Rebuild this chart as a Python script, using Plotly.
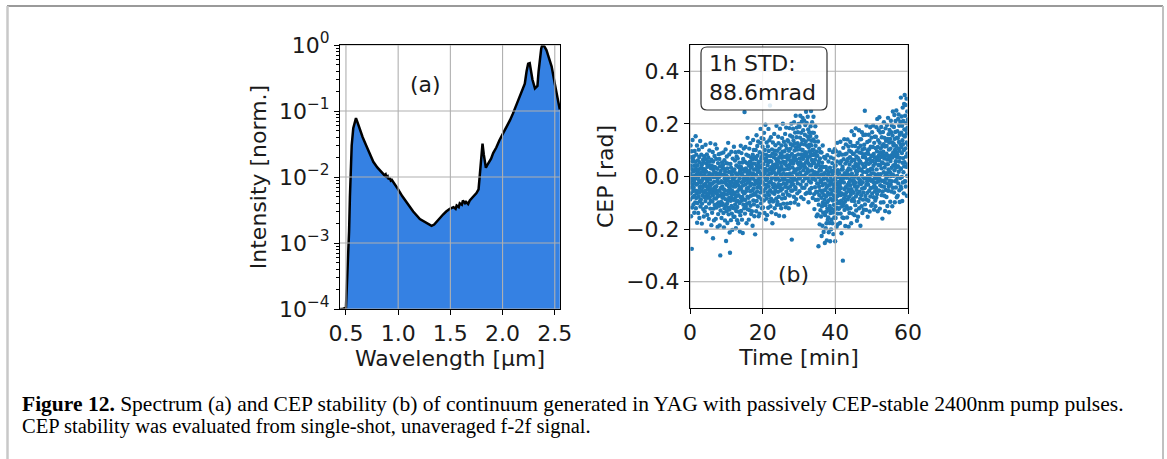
import numpy as np
import plotly.graph_objects as go

W, H = 1167, 459

# ---------------- (a) spectrum ----------------
wavelength_um = [0.445, 0.47, 0.50, 0.505, 0.51, 0.52, 0.53, 0.538, 0.545, 0.555, 0.57, 0.585, 0.596,
                 0.61, 0.634, 0.66, 0.698, 0.73, 0.762, 0.80, 0.83, 0.857, 0.87, 0.88, 0.89, 0.90,
                 0.91, 0.92, 0.93, 0.94, 0.953, 0.97, 1.0, 1.04, 1.08, 1.144, 1.208, 1.27, 1.30,
                 1.32, 1.345, 1.368, 1.40, 1.43, 1.46, 1.495, 1.53, 1.55, 1.56, 1.58, 1.59, 1.61,
                 1.62, 1.64, 1.65, 1.67, 1.686, 1.71, 1.73, 1.75, 1.77, 1.78, 1.795, 1.808, 1.82,
                 1.84, 1.862, 1.89, 1.91, 1.94, 1.97, 2.0, 2.04, 2.07, 2.1, 2.13, 2.165, 2.19,
                 2.213, 2.23, 2.245, 2.26, 2.275, 2.286, 2.31, 2.334, 2.345, 2.357, 2.37, 2.38,
                 2.40, 2.42, 2.45, 2.47, 2.50, 2.52, 2.548]
intensity_norm = [1.0e-4, 1.0e-4, 1.05e-4, 1.5e-4, 2.5e-4, 7e-4, 1.5e-3, 5e-3, 1.2e-2, 3e-2, 5.5e-2, 7.2e-2, 7.8e-2,
                  6.8e-2, 5.2e-2, 4.0e-2, 2.9e-2, 2.2e-2, 1.7e-2, 1.4e-2, 1.25e-2, 1.14e-2, 1.06e-2, 1.1e-2, 0.98e-2, 1.02e-2,
                  0.92e-2, 0.97e-2, 0.88e-2, 0.9e-2, 0.84e-2, 0.78e-2, 6.5e-3, 5.1e-3, 4.2e-3, 3.0e-3, 2.3e-3, 2.0e-3, 1.9e-3,
                  1.82e-3, 1.9e-3, 2.1e-3, 2.4e-3, 2.7e-3, 3.0e-3, 3.3e-3, 3.5e-3, 3.3e-3, 3.7e-3, 3.5e-3, 4.0e-3, 3.8e-3,
                  4.4e-3, 4.0e-3, 4.2e-3, 3.9e-3, 4.4e-3, 4.8e-3, 5.3e-3, 5.7e-3, 6.5e-3, 9.5e-3, 2.0e-2, 3.2e-2, 2.2e-2,
                  1.38e-2, 1.6e-2, 1.9e-2, 2.3e-2, 2.8e-2, 3.6e-2, 4.4e-2, 5.8e-2, 7.2e-2, 9.2e-2, 1.2e-1, 1.6e-1, 2.0e-1,
                  2.6e-1, 4.0e-1, 5.2e-1, 5.3e-1, 4.0e-1, 3.0e-1, 2.2e-1, 2.4e-1, 4.0e-1, 6.5e-1, 8.8e-1, 1.0,
                  0.95, 0.84, 0.62, 0.47, 0.26, 0.17, 0.105]

wl_ticks = [0.5, 1.0, 1.5, 2.0, 2.5]
wl_ticklabels = ["0.5", "1.0", "1.5", "2.0", "2.5"]
int_ticks = [1e-4, 1e-3, 1e-2, 1e-1, 1e0]
int_ticklabels = ["10<sup>−4</sup>", "10<sup>−3</sup>", "10<sup>−2</sup>", "10<sup>−1</sup>", "10<sup>0</sup>"]

# ---------------- (b) CEP, single-shot values in mrad (24 shots per minute, one line per minute) ----------------
cep_mrad_00_10 = [
    12, -87, 41, -23, 118, -64, 5, -151, 73, -9, -42, 96, -275, 28, -118, 57, -31, 139, -2, -79, 64, -55, 19, -106,
    -42, 76, -17, 41, -138, 2, -73, 97, -26, 24, -99, 56, -8, 153, -54, -121, 29, -82, 83, -31, 9, -64, 118, -176,
    43, -28, -101, 14, 61, -56, -139, -1, 27, -77, 102, -14, -62, 74, -158, 6, -43, 53, -93, 135, -21, -114, 32, -37,
    -87, 16, -21, 83, -54, 43, -179, 4, -103, 112, -13, -72, 29, -40, 64, -124, -4, -62, 52, -152, 20, -31, 77, -78,
    6, -133, 28, -54, 66, -28, -93, 121, -76, -7, -117, 18, -209, 49, -37, 84, -64, -17, -146, 37, -49, 58, -81, 1,
    -68, 72, -41, -3, -161, 42, -103, 13, 99, -27, -79, 56, -56, -12, -122, 127, -34, -92, 31, -48, 3, -185, 64, -63,
    41, -56, -138, 9, -95, -26, 93, -71, -235, 57, -48, 25, -122, -3, -167, -21, 36, -83, 78, -108, -41, 14, -61, 122,
    -49, 34, -161, -2, -84, 67, -37, -118, 13, 106, -66, -18, -104, 29, -192, -6, -75, 51, -143, -24, 5, -99, 85, -54,
    -2, -111, 67, -53, -186, 12, -72, 39, -300, -23, -129, 21, -44, 88, -97, -18, -158, 5, -64, 53, -108, -39, -81, 33,
    -103, -22, 44, -77, 91, -139, 7, -48, -194, 29, -66, 62, -121, -7, -52, -167, 18, -86, -24, 103, -111, -13, -245, 51]
cep_mrad_10_20 = [
    4, -132, -31, 76, -68, -103, 31, -177, -14, -91, 49, -55, 128, -119, -4, -144, -37, 17, -82, 84, -126, -21, -213, -46,
    -290, 16, -63, 48, -92, -34, -166, 33, -78, 94, -112, -21, -141, 7, -54, -203, -8, -119, 68, -67, 21, -86, -38, -153,
    -12, -89, 113, -121, -28, 27, -153, -4, -62, 61, -106, -38, 92, -78, 13, -197, -21, -131, 42, -73, 76, -94, -31, -166,
    -116, 4, -57, 69, -93, -18, -178, 36, -33, -71, 94, -134, 11, -48, 52, -101, -7, -209, 19, -43, -147, 28, -79, 117,
    37, -46, -131, 12, 89, -92, -22, -164, 6, -78, 53, -57, -215, 28, -34, 67, -107, -9, -87, 106, -64, -17, -121, 19,
    245, -63, 56, -141, -1, -89, 112, -31, -114, 31, -56, -12, 83, -178, 22, -46, 51, -103, -6, -77, 147, -125, 11, -23,
    -44, 79, -81, 3, -164, 42, -22, 106, -99, 21, -128, -12, 56, -56, 127, -34, -111, 33, -73, 72, -143, 11, -27, 48,
    37, -132, -2, 64, -53, -187, 83, -70, 12, 139, -91, -9, -46, 101, -106, 26, -31, -151, 49, -64, 7, 73, -220, -17,
    -69, 28, 101, -26, 66, -132, 4, 157, -93, 41, -19, -57, 116, -42, 79, -113, 18, -76, 133, -10, 54, -151, 32, -33,
    41, -79, 17, -141, 92, -26, 57, -3, 128, -61, 181, -44, 11, -102, 69, -18, 146, -87, 34, -121, 77, 6, -53, 113]
cep_mrad_20_30 = [
    -23, 86, -118, 47, 3, 143, -56, 24, -91, 166, -31, 68, -139, 12, 101, -72, 29, -8, 197, -46, 58, -163, 83, -14,
    66, -32, 129, -84, 22, -147, 78, -7, 43, -61, 114, 4, -119, 54, 181, -38, 97, -71, 26, -23, 138, -96, 12, 59,
    270, -52, 31, -113, 78, -19, 149, -84, 11, 57, -136, 36, -7, 103, -61, 22, -178, 87, -29, 129, -95, 44, -41, 16,
    -92, 18, 73, -29, 162, -66, 31, -121, 98, -3, 46, -54, 119, -12, 84, -143, 9, 66, -83, 193, -40, 37, -108, 57,
    44, -97, 98, -6, 62, -58, 151, -29, 17, 127, -77, 31, -149, 73, -14, 106, -41, 23, 182, -108, 52, 8, 87, -53,
    -32, 83, -121, 39, 118, 2, 71, -84, 146, 28, -47, 94, -12, 201, -68, 56, -103, 13, 76, -26, 132, -151, 49, -4,
    96, -11, 27, -82, 162, -39, 54, 119, -117, 73, 4, 186, -58, 42, -28, 107, 9, -103, 81, -16, 138, 29, -69, 64,
    -44, 133, 1, 67, -121, 98, 29, -17, 184, 44, -72, 78, 12, 156, -38, 106, -101, 52, 123, -4, -54, 201, 61, -27,
    -240, 86, 1, 151, 34, -53, 118, -16, 182, 49, -31, 137, 16, 73, -77, 206, 61, -8, 99, -99, 126, 27, 167, -41,
    78, -48, 231, 23, 111, -86, 64, 149, -13, 186, 9, 102, -64, 52, 127, -26, 168, 31, 84, -107, 116, 200, -2, 45]
cep_mrad_30_40 = [
    29, 117, -56, 189, 68, -8, 148, 14, 231, 54, -31, 103, 36, 166, -79, 84, 124, 3, 208, 43, 139, -43, 77, 223,
    101, -18, 67, 176, 24, 139, -86, 84, 46, 213, 3, 122, -43, 77, 159, 36, -8, 196, 92, -66, 133, 53, 246, 11,
    -31, 86, 204, 14, 118, -62, 63, 152, 28, 227, -6, 73, 179, 51, -98, 111, 19, 141, -18, 168, 96, 44, 121, -49,
    77, -63, 154, 4, 191, 88, -23, 249, 42, 119, -44, 136, 63, 23, 206, -9, 101, 167, -82, 82, 52, 141, 9, 227,
    102, -8, 166, -67, 51, -124, 88, 16, 133, -41, 64, 191, -13, 117, -89, 36, 79, -58, 151, 4, -151, 94, 41, -27,
    -61, 79, -144, 14, -88, 133, -26, 47, -265, -2, -107, 58, -39, 106, -71, 26, -182, 3, 69, -53, 93, -128, -14, 37,
    23, -152, -22, -81, 91, -226, 7, -113, 52, -62, -187, -33, 118, -99, -11, -138, 36, -53, -211, -1, -106, 74, -71, 13,
    -88, 11, -253, -27, -147, 68, -109, -51, -197, 36, -76, -134, -8, -178, -41, -243, 24, -98, 81, -122, -34, -164, -63, 7,
    -16, -156, 57, -91, -212, 16, -69, -128, 101, -177, -32, -112, 33, -246, -49, -139, -2, -84, 72, -201, -23, -66, -164, 21,
    -123, -14, -54, 51, -178, 9, -91, 93, -137, -31, -219, 21, -72, 68, -108, -43, -156, 36, -83, 104, -126, -8, -246, -27]
cep_mrad_40_50 = [
    -13, -158, 42, -87, 96, -56, -119, 13, -191, -29, 57, -102, 128, -74, -44, -141, 24, -181, -2, -63, 81, -123, -21, -96,
    -121, 13, -56, 91, -102, -32, -177, 49, -71, 132, -141, -8, -44, 58, -92, -21, -216, 26, -64, 83, -113, 3, -156, 37,
    28, -320, -9, -104, 109, -69, 66, -158, -23, -83, 142, -48, -127, 13, 84, -96, 1, -188, 49, -41, -73, 122, -114, -4,
    -61, 87, -113, -4, 58, -156, 22, -32, 141, -87, 9, -123, 68, -48, 114, -191, 31, -24, -78, 98, -139, 46, -56, -11,
    73, -34, 131, -121, 26, -69, 3, 94, -178, 57, -48, 172, -92, 11, -16, 117, -57, 64, -141, -1, 86, -83, 37, -28,
    -62, 87, -16, 158, -93, 32, -147, 63, -1, -38, 116, -109, 48, -24, 183, -76, 21, -129, 76, -51, 9, 96, -168, 39,
    19, -66, 128, -38, 71, -153, 47, -8, 109, -97, 33, 176, -121, 62, -24, 91, -58, 141, -13, -84, 56, -187, 24, 117,
    -29, 142, -71, 26, -113, 89, 3, 168, -46, 48, -139, 103, -22, 74, -88, 17, 158, -61, 36, -126, 84, -7, 121, -43,
    106, -43, 250, -106, 38, 72, -74, 159, -7, 51, -127, 87, -31, 194, 16, -88, 63, -19, 131, -62, 24, -153, 98, 2,
    -31, 86, -92, 48, 159, -7, 104, -54, 23, 136, -133, 67, 2, 187, -76, 53, -44, 113, -16, 30, -111, 78, 11, 148]
cep_mrad_50_60 = [
    79, -13, 168, -64, 26, -103, 59, 112, -42, 194, -21, 41, -79, 86, 12, -126, 128, -34, 73, -7, 151, -56, 49, -91,
    -113, 108, 4, 151, -44, 61, -81, 187, 27, -22, 96, -67, 219, -6, 73, -132, 112, 9, 138, -53, 44, -17, 176, 81,
    62, -54, 225, -9, 128, -122, 43, 91, -33, 167, 9, 106, -99, 74, 188, -16, 31, -71, 149, -37, 53, 116, -160, 82,
    -57, 51, 169, -16, 94, -98, 123, 16, 206, -39, 68, -73, 147, 34, -22, 114, -131, 78, 4, 183, -51, 46, 136, -9,
    87, -78, 116, 13, 196, -26, 64, -112, 143, 1, 47, 223, -54, 78, 27, 161, -39, 102, -136, 129, 16, 177, -16, 68,
    16, 143, -96, 106, 59, -31, 212, 2, 168, -57, 81, 33, 194, -18, 129, -113, 72, 156, 8, 247, -43, 91, 42, 118,
    126, 3, 188, -61, 79, 234, 24, 143, -98, 101, 46, 169, -18, 211, 58, -42, 116, 34, 251, -13, 92, -79, 148, 72,
    2, 172, 83, -73, 146, 39, 219, -26, 107, 236, 18, 131, 57, 193, -52, 98, -97, 159, 71, -6, 208, 31, 122, -38,
    300, 29, 167, -46, 112, 228, -2, 89, 193, -93, 138, 52, 262, -23, 123, 70, 211, 16, 156, -64, 101, 276, 39, 179,
    54, 310, -18, 152, 231, -19, 107, 272, -38, 178, 76, 203, 37, 296, 129, -73, 164, 3, 247, 88, 186, 46, 217, 121]
measurement_minutes = 60

time_ticks = [0, 20, 40, 60]
time_ticklabels = ["0", "20", "40", "60"]
cep_ticks = [-0.4, -0.2, 0.0, 0.2, 0.4]
cep_ticklabels = ["−0.4", "−0.2", "0.0", "0.2", "0.4"]

std_label = "1h STD:<br>88.6mrad"
caption_line1 = ("<b>Figure 12.</b> Spectrum (a) and CEP stability (b) of continuum generated in YAG with "
                 "passively CEP-stable 2400nm pump pulses.")
caption_line2 = "CEP stability was evaluated from single-shot, unaveraged f-2f signal."

# ---------------- derived ----------------
cep_rad = np.concatenate([cep_mrad_00_10, cep_mrad_10_20, cep_mrad_20_30,
                          cep_mrad_30_40, cep_mrad_40_50, cep_mrad_50_60]) / 1000.0
time_min = np.linspace(0, measurement_minutes, len(cep_rad))

FONT = "DejaVu Sans"
FS = 22
GRID = "#b0b0b0"
TXT = "#1a1a1a"


def px(x):
    return x / W


def py(y):
    return 1 - y / H


fig = go.Figure()

fig.add_trace(go.Scatter(x=wavelength_um, y=intensity_norm, mode="lines", fill="tozeroy",
                         fillcolor="#3581e3", line=dict(color="black", width=2.5),
                         xaxis="x", yaxis="y", showlegend=False, hoverinfo="skip"))
fig.add_trace(go.Scatter(x=time_min, y=cep_rad, mode="markers",
                         marker=dict(color="#1f77b4", size=4.4, line=dict(width=0)),
                         xaxis="x2", yaxis="y2", showlegend=False))

xr_a = [0.443, 2.55]
yr_a = [1e-4, 1e0]
xr_b = [0, 60]
yr_b = [-0.5, 0.5]


def grid_trace(xt, yt, xr, yr, xa, ya):
    gx, gy = [], []
    for v in xt:
        gx += [v, v, None]
        gy += [yr[0], yr[1], None]
    for v in yt:
        gx += [xr[0], xr[1], None]
        gy += [v, v, None]
    return go.Scatter(x=gx, y=gy, mode="lines", line=dict(color=GRID, width=1.1),
                      xaxis=xa, yaxis=ya, showlegend=False, hoverinfo="skip")


fig.add_trace(grid_trace(wl_ticks, int_ticks, xr_a, yr_a, "x", "y"))
fig.add_trace(grid_trace(time_ticks, cep_ticks, xr_b, yr_b, "x2", "y2"))

axis_common = dict(showline=True, linecolor="black", linewidth=1, mirror=True,
                   ticks="outside", ticklen=5, tickwidth=1, tickcolor="black",
                   showgrid=False, zeroline=False, automargin=False,
                   tickfont=dict(family=FONT, size=FS, color=TXT),
                   title_font=dict(family=FONT, size=FS, color=TXT))

fig.update_layout(
    template="none",
    width=W, height=H, margin=dict(l=0, r=0, t=0, b=0, pad=0),
    paper_bgcolor="white", plot_bgcolor="white",
    xaxis=dict(domain=[px(340), px(560)], anchor="y", range=xr_a,
               tickmode="array", tickvals=wl_ticks, ticktext=wl_ticklabels,
               title=dict(text="Wavelength [µm]", standoff=3), **axis_common),
    yaxis=dict(domain=[py(309), py(45)], anchor="x", type="log", range=[-4, 0],
               tickmode="array", tickvals=int_ticks, ticktext=int_ticklabels,
               minor=dict(ticks="outside", ticklen=3, tickcolor="black", showgrid=False,
                          tickvals=[m * 10.0 ** e for e in range(-4, 0) for m in range(2, 10)]),
               title=dict(text="Intensity [norm.]", standoff=6), **axis_common),
    xaxis2=dict(domain=[px(690), px(908)], anchor="y2", range=xr_b,
                tickmode="array", tickvals=time_ticks, ticktext=time_ticklabels,
                title=dict(text="Time [min]", standoff=3), **axis_common),
    yaxis2=dict(domain=[py(308), py(45)], anchor="x2", range=yr_b,
                tickmode="array", tickvals=cep_ticks, ticktext=cep_ticklabels,
                title=dict(text="CEP [rad]", standoff=6), **axis_common),
)

x0, x1, y0, y1 = px(701), px(827), py(110), py(47)
rx, ry = 6 / W, 6 / H
path = (f"M {x0+rx},{y1} L {x1-rx},{y1} Q {x1},{y1} {x1},{y1-ry} L {x1},{y0+ry} "
        f"Q {x1},{y0} {x1-rx},{y0} L {x0+rx},{y0} Q {x0},{y0} {x0},{y0+ry} "
        f"L {x0},{y1-ry} Q {x0},{y1} {x0+rx},{y1} Z")
shapes = [
    dict(type="path", path=path, xref="paper", yref="paper",
         line=dict(color="#333333", width=1.2), fillcolor="rgba(255,255,255,0.85)", layer="above"),
    dict(type="line", xref="paper", yref="paper", x0=px(7), x1=px(1163), y0=py(6), y1=py(6),
         line=dict(color="#9a9a9a", width=2)),
    dict(type="line", xref="paper", yref="paper", x0=px(7.5), x1=px(7.5), y0=py(6), y1=-0.05,
         line=dict(color="#c8c8c8", width=2.5)),
    dict(type="line", xref="paper", yref="paper", x0=px(1163), x1=px(1163), y0=py(6), y1=-0.05,
         line=dict(color="#c0c0c0", width=2)),
]
fig.update_layout(shapes=shapes)

annotations = [
    dict(text=std_label, xref="paper", yref="paper", x=px(707), y=py(78), xanchor="left", yanchor="middle",
         align="left", showarrow=False, font=dict(family=FONT, size=FS, color=TXT)),
    dict(text="(a)", xref="paper", yref="paper", x=px(425), y=py(85), xanchor="center", yanchor="middle",
         showarrow=False, font=dict(family=FONT, size=FS, color=TXT)),
    dict(text="(b)", xref="paper", yref="paper", x=px(793), y=py(274), xanchor="center", yanchor="middle",
         showarrow=False, font=dict(family=FONT, size=FS, color=TXT)),
    dict(text=caption_line1, xref="paper", yref="paper", x=px(20), y=py(404), xanchor="left", yanchor="middle",
         align="left", showarrow=False, font=dict(family="Liberation Serif", size=21.5, color="black")),
    dict(text=caption_line2, xref="paper", yref="paper", x=px(20), y=py(426), xanchor="left", yanchor="middle",
         align="left", showarrow=False, font=dict(family="Liberation Serif", size=20.5, color="black")),
]
fig.update_layout(annotations=annotations)

fig.write_html("out.html", config={"displayModeBar": False},
               post_script="document.body.style.margin='0px';document.body.style.overflow='hidden';")
